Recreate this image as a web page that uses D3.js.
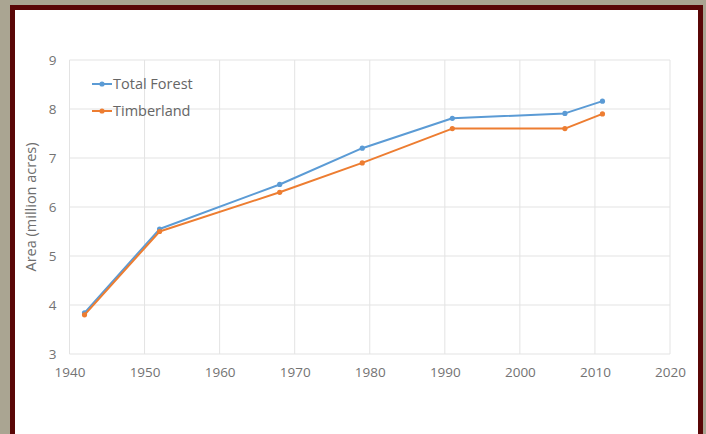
<!DOCTYPE html>
<html>
<head>
<meta charset="utf-8">
<script src="https://cdn.jsdelivr.net/npm/d3@7"></script>
<style>
  body { margin: 0; background: #a9a593; }
  svg { display: block; }
</style>
</head>
<body>
<script>
// survey years and areas (million acres)
var years = [1942, 1952, 1968, 1979, 1991, 2006, 2011];
var totalForest = [3.84, 5.55, 6.46, 7.2, 7.81, 7.91, 8.16];
var timberland = [3.8, 5.5, 6.3, 6.9, 7.6, 7.6, 7.9];
var seriesNames = ["Total Forest", "Timberland"];
var xTicks = [1940, 1950, 1960, 1970, 1980, 1990, 2000, 2010, 2020];
var yTicks = [3, 4, 5, 6, 7, 8, 9];

var width = 706, height = 434;
var colors = ["#5b9bd5", "#ed7d31"];

const svg = d3.select("body").append("svg")
    .attr("width", width)
    .attr("height", height);

// stone background + dark red frame + white panel
svg.append("rect").attr("width", width).attr("height", height).attr("fill", "#aaa592");
svg.append("rect")
    .attr("x", 10).attr("y", 5)
    .attr("width", 693).attr("height", 440)
    .attr("fill", "#5a0707");
svg.append("rect")
    .attr("x", 15).attr("y", 10)
    .attr("width", 683).attr("height", 430)
    .attr("fill", "#ffffff");

var x = d3.scaleLinear().domain([1940, 2020]).range([69.5, 670]);
var y = d3.scaleLinear().domain([3, 9]).range([354, 60]);

const g = svg.append("g").attr("class", "plot");

// gridlines
g.append("g").attr("class", "grid-y")
    .selectAll("line")
    .data(yTicks)
    .enter().append("line")
    .attr("x1", x(1940)).attr("x2", x(2020))
    .attr("y1", d => y(d)).attr("y2", d => y(d))
    .attr("stroke", "#e3e3e3")
    .attr("stroke-width", 1);

g.append("g").attr("class", "grid-x")
    .selectAll("line")
    .data(xTicks)
    .enter().append("line")
    .attr("x1", d => x(d)).attr("x2", d => x(d))
    .attr("y1", y(9)).attr("y2", y(3))
    .attr("stroke", "#e3e3e3")
    .attr("stroke-width", 1);

// axes (labels only, Excel style)
var xAxis = g.append("g")
    .attr("transform", `translate(0,${y(3)})`)
    .call(d3.axisBottom(x).tickValues(xTicks).tickFormat(d3.format("d")).tickSize(0).tickPadding(13));
var yAxis = g.append("g")
    .attr("transform", `translate(${x(1940)},0)`)
    .call(d3.axisLeft(y).tickValues(yTicks).tickFormat(d3.format("d")).tickSize(0).tickPadding(13));

[xAxis, yAxis].forEach(a => {
    a.select(".domain").remove();
    a.selectAll("text")
        .attr("fill", "#737373")
        .attr("font-family", "Open Sans, sans-serif")
        .attr("font-size", 13.5);
});

svg.append("text")
    .attr("transform", `translate(36,${y(6)}) rotate(-90)`)
    .attr("text-anchor", "middle")
    .attr("fill", "#6e6e6e")
    .attr("font-family", "Open Sans, sans-serif")
    .attr("font-size", 14.5)
    .text("Area (million acres)");

// series
var series = [totalForest, timberland];
var line = d3.line()
    .x((d, i) => x(years[i]))
    .y(d => y(d));

series.forEach((vals, k) => {
    g.append("path")
        .datum(vals)
        .attr("fill", "none")
        .attr("stroke", colors[k])
        .attr("stroke-width", 2)
        .attr("stroke-linejoin", "round")
        .attr("d", line);
    g.append("g")
        .selectAll("circle")
        .data(vals)
        .enter().append("circle")
        .attr("cx", (d, i) => x(years[i]))
        .attr("cy", d => y(d))
        .attr("r", 2.6)
        .attr("fill", colors[k]);
});

// legend
var legend = svg.append("g").attr("class", "legend")
    .selectAll("g")
    .data(seriesNames)
    .enter().append("g")
    .attr("transform", (d, i) => `translate(92,${84 + i * 27})`);

legend.append("line")
    .attr("x1", 0).attr("x2", 20)
    .attr("stroke", (d, i) => colors[i])
    .attr("stroke-width", 2);
legend.append("circle")
    .attr("cx", 10).attr("r", 2.6)
    .attr("fill", (d, i) => colors[i]);
legend.append("text")
    .attr("x", 21)
    .attr("dy", "0.35em")
    .attr("fill", "#666666")
    .attr("font-family", "Open Sans, sans-serif")
    .attr("font-size", 14.5)
    .text(d => d);
</script>
</body>
</html>
